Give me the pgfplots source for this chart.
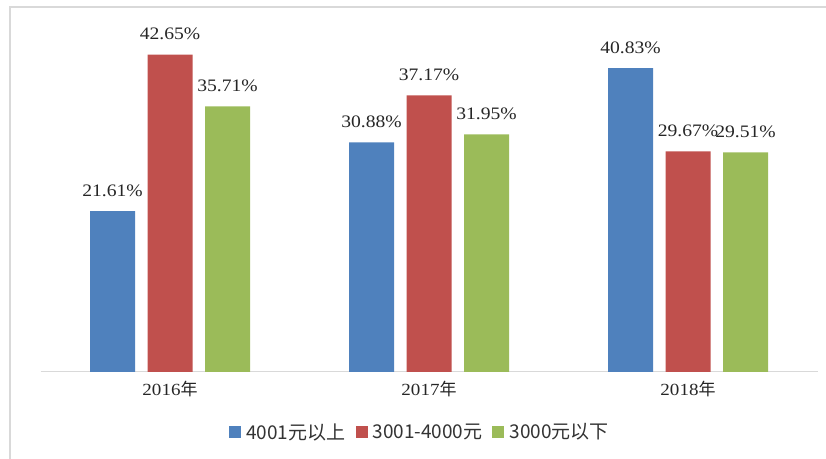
\documentclass[border=0pt]{standalone}
\usepackage{fontspec}
\setmainfont{Liberation Serif}[FakeStretch=1.12]
\newfontfamily\cjk{Noto Sans CJK SC}
\usepackage{pgfplots}
\pgfplotsset{compat=1.18}
\definecolor{cblue}{HTML}{4F81BD}
\definecolor{cred}{HTML}{C0504D}
\definecolor{cgreen}{HTML}{9BBB59}
\definecolor{gline}{HTML}{D9D9D9}
\begin{document}
\begin{tikzpicture}
\begin{axis}[
  scale only axis, width=777pt, height=372pt,
  xmin=-0.5, xmax=2.5, ymin=0, ymax=50,
  axis x line*=bottom, axis y line=none,
  x axis line style={draw=gline, line width=1pt, -},
  xtick={0,1,2}, xticklabels={2016{\cjk 年},2017{\cjk 年},2018{\cjk 年}},
  major tick length=0pt,
  xticklabel style={font=\fontsize{17}{17}\selectfont, text=black!85, anchor=north, yshift=-6pt},
  ybar, bar width=45pt,
  nodes near coords={\pgfmathprintnumber[assume math mode=true,fixed,fixed zerofill,precision=2]{\pgfplotspointmeta}\%},
  nodes near coords style={font=\fontsize{17.5}{17.5}\selectfont, text=black!85, anchor=base, yshift=15pt},
  legend style={at={(axis description cs:0.5,0)}, xshift=-9pt, yshift=-60pt, anchor=center, draw=none,
    font=\cjk\fontsize{19}{19}\selectfont, text=black!80, legend columns=-1,
    /tikz/every even column/.append style={column sep=8pt}},
  legend image code/.code={\fill[#1] (0pt,-6pt) rectangle (12pt,6pt); \path (15pt,0pt);},
]
\addplot[fill=cblue, draw=none, bar shift=-57.5pt] coordinates {(0,21.61) (1,30.88) (2,40.83)};
\addplot[fill=cred, draw=none, bar shift=0pt] coordinates {(0,42.65) (1,37.17) (2,29.67)};
\addplot[fill=cgreen, draw=none, bar shift=57.5pt] coordinates {(0,35.71) (1,31.95) (2,29.51)};
\legend{4001元以上,3001-4000元,3000元以下}
\end{axis}
\pgfresetboundingbox
\path[use as bounding box] (current axis.south west) ++(-40.5pt,-87pt) rectangle ([xshift=8.5pt]current axis.north east);
\draw[gline, line width=1.5pt] ([xshift=-30.5pt,yshift=-87pt]current axis.south west) -- ([xshift=-30.5pt,yshift=-7pt]current axis.north west) -- ([xshift=8.5pt,yshift=-7pt]current axis.north east);
\end{tikzpicture}
\end{document}
